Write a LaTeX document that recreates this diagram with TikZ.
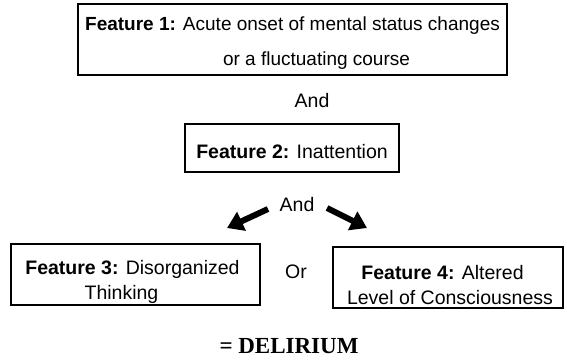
\documentclass[tikz,border=0pt]{standalone}
\usepackage{fontspec}
\setmainfont{Liberation Sans}
\newfontfamily\seriffont{Liberation Serif}
\usetikzlibrary{arrows.meta}
\tikzset{
  featbox/.style={draw=black, line width=1.6pt, inner sep=0pt},
  feattext/.style={align=center, inner sep=0pt, font=\fontsize{19.5}{25}\selectfont},
  joinword/.style={inner sep=0pt, font=\fontsize{19.5}{24}\selectfont},
  fatarrow/.style={line width=6pt, -{Triangle[length=16pt,width=20pt]}}
}
\begin{document}
\begin{tikzpicture}[x=1pt,y=-1pt]
      \useasboundingbox (0,0) rectangle (567,360);
      \node[featbox, line width=2pt, minimum width=429pt, minimum height=71pt] at (292.5,39.5) (f1) {};
      \node[feattext, font=\fontsize{19}{35}\selectfont] at (292.5,43.5) (f1txt) {\textbf{Feature 1:} Acute onset of mental status changes\\\hspace*{48pt}or a fluctuating course};
      \node[joinword] at (312,101) (and1) {And};
      \node[featbox, minimum width=214pt, minimum height=48pt] at (292,148) (f2) {};
      \node[feattext] at (292,152) (f2txt) {\textbf{Feature 2:} Inattention};
      \node[joinword] at (297,205) (and2) {And};
      \coordinate (l1) at (268,209);
      \coordinate (l2) at (227,228);
      \coordinate (r1) at (327,208);
      \coordinate (r2) at (367,228);
      \draw[fatarrow] (l1) -- (l2);
      \draw[fatarrow] (r1) -- (r2);
      \node[featbox, minimum width=249pt, minimum height=61pt] at (135.5,274.5) (f3) {};
      \node[feattext] at (132.5,281.5) (f3txt) {\textbf{Feature 3:} Disorganized\\Thinking\hspace*{22pt}};
      \node[joinword] at (296,272) (or) {Or};
      \node[featbox, minimum width=230pt, minimum height=61pt] at (448,277.5) (f4) {};
      \node[feattext] at (450,285.5) (f4txt) {\textbf{Feature 4:} Altered\hspace*{15pt}\\Level of Consciousness};
      \node[inner sep=0pt, font=\seriffont\bfseries\fontsize{23}{26}\selectfont] at (289,346) (delirium) {= DELIRIUM};
\end{tikzpicture}
\end{document}
